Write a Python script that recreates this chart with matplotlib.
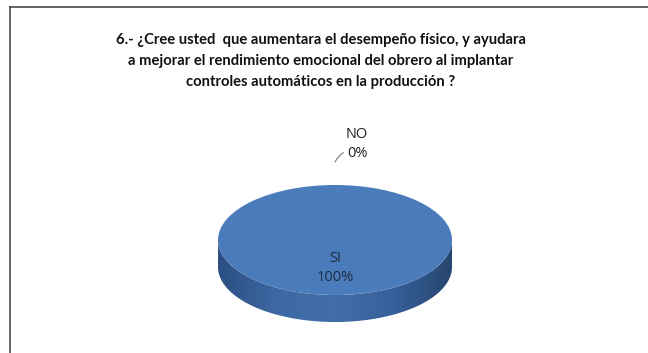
import numpy as np
import matplotlib
matplotlib.use("Agg")
import matplotlib.pyplot as plt
from matplotlib.patches import Polygon
from matplotlib.lines import Line2D
from matplotlib.colors import LinearSegmentedColormap

# ---------------------------- DATA ----------------------------
labels = ["SI", "NO"]
values = [100, 0]
title = ("6.- ¿Cree usted  que aumentara el desempeño físico, y ayudara\n"
         "a mejorar el rendimiento emocional del obrero al implantar\n"
         "controles automáticos en la producción ?")

W, H = 648, 353
fig = plt.figure(figsize=(W / 100, H / 100), dpi=100)
ax = fig.add_axes([0, 0, 1, 1])

# pixel geometry of the pie: centre, x radius, y radius, depth
cx, cy, rx, ry, depth = 335, 240, 117, 55, 27

# ---------------------------- PIE ------------------------------
wedges, _ = ax.pie(values, colors=["#4a7cbc", "#4a7cbc"], startangle=90,
                   counterclock=False, radius=1.0, center=(0, 0),
                   wedgeprops=dict(linewidth=0))
for w in wedges:
    w.set_zorder(3)
ax.set_aspect("auto")
ax.axis("off")

# side of the 3D disc, with a horizontal shading
d = depth / ry
t = np.linspace(np.pi, 2 * np.pi, 200)
top_edge = np.column_stack([np.cos(t), np.sin(t)])
bot_edge = np.column_stack([np.cos(t[::-1]), np.sin(t[::-1]) - d])
side = Polygon(np.vstack([top_edge, bot_edge]), closed=True,
               facecolor="none", edgecolor="none")
ax.add_patch(side)
cmap = LinearSegmentedColormap.from_list(
    "side", ["#2c4f82", "#3d68a3", "#416ea8", "#36609a", "#27466f"])
grad = np.linspace(0, 1, 256).reshape(1, -1)
im = ax.imshow(grad, cmap=cmap, extent=[-1, 1, -1 - d, 0], aspect="auto",
               zorder=2)
im.set_clip_path(side)
ax.set_xlim(-cx / rx, (W - cx) / rx)
ax.set_ylim(-(H - cy) / ry, cy / ry)

# ---------------------------- LABELS ---------------------------
font = ["Open Sans", "DejaVu Sans"]
for w, lab, val in zip(wedges, labels, values):
    ang = np.deg2rad((w.theta1 + w.theta2) / 2)
    txt = f"{lab}\n{val}%"
    if val > 0:
        ax.text(0, -0.51, txt, ha="center", va="center", fontsize=10.5,
                color="#1e2a40", family=font, zorder=5, linespacing=1.35)
    else:
        x0, y0 = 1.42 * np.cos(ang), 1.42 * np.sin(ang)
        ax.annotate(txt, xy=(x0, y0), xytext=(x0 + 0.19, y0 + 0.33),
                    ha="center", va="center", fontsize=10.5, color="#202020",
                    family=font, linespacing=1.35,
                    arrowprops=dict(arrowstyle="-", color="#7a7a7a", lw=0.8,
                                    shrinkA=0, shrinkB=0,
                                    connectionstyle="angle3,angleA=0,angleB=60",
                                    relpos=(0.12, 0.28)))

fig.text(321 / W, 1 - 61 / H, title, ha="center", va="center", fontsize=10.6,
         fontweight="bold", family=["Lato", "DejaVu Sans"], color="#111111",
         linespacing=1.68)

# chart border (top and left edges)
fig.add_artist(Line2D([10 / W, 1], [1 - 7 / H, 1 - 7 / H], color="#4a4a4a",
                      lw=1.2, transform=fig.transFigure))
fig.add_artist(Line2D([10 / W, 10 / W], [0, 1 - 7 / H], color="#4a4a4a",
                      lw=1.2, transform=fig.transFigure))

fig.savefig("out.png", dpi=100, facecolor="white")
